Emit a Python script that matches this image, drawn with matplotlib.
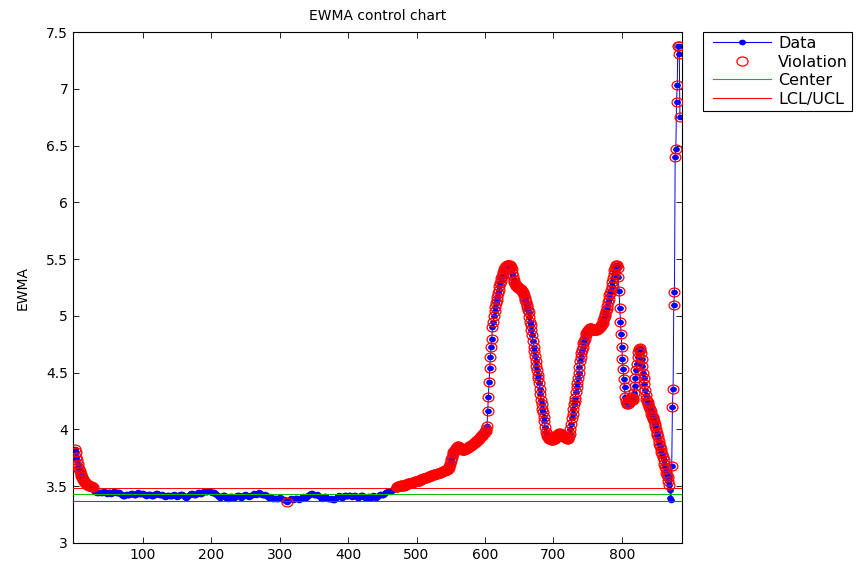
"""EWMA control chart: smoothed process signal with centre line and control limits."""
import numpy as np
import matplotlib
matplotlib.use("Agg")
import matplotlib.pyplot as plt
from matplotlib.lines import Line2D
from matplotlib.path import Path
from matplotlib.transforms import Affine2D
from matplotlib.legend_handler import HandlerLine2D

plt.rcParams["font.family"] = ["DejaVu Sans"]

# ---- data (EWMA value per sample, samples 1..885) ----
ewma_startup = [3.83, 3.80, 3.76, 3.73, 3.70, 3.67, 3.65, 3.63, 3.61, 3.59,
                3.58, 3.565, 3.555, 3.545, 3.535, 3.53, 3.525, 3.52, 3.515, 3.51,
                3.505, 3.50, 3.50, 3.505, 3.50, 3.495, 3.49, 3.48, 3.46, 3.45,
                3.445]

ewma_baseline = [
    # 32-70
    3.445, 3.44, 3.44, 3.445, 3.45, 3.45, 3.445, 3.44, 3.44, 3.445,
    3.45, 3.455, 3.45, 3.445, 3.44, 3.435, 3.44, 3.445, 3.45, 3.45,
    3.445, 3.44, 3.435, 3.44, 3.445, 3.45, 3.455, 3.45, 3.445, 3.44,
    3.44, 3.445, 3.45, 3.445, 3.44, 3.435, 3.43, 3.425, 3.42,
    # 71-100
    3.415, 3.41, 3.415, 3.42, 3.425, 3.43, 3.43, 3.425, 3.42, 3.425,
    3.43, 3.435, 3.44, 3.44, 3.435, 3.43, 3.425, 3.42, 3.425, 3.43,
    3.435, 3.44, 3.445, 3.44, 3.435, 3.43, 3.43, 3.435, 3.44, 3.44,
    # 101-140
    3.435, 3.43, 3.425, 3.42, 3.415, 3.42, 3.425, 3.43, 3.435, 3.43,
    3.425, 3.42, 3.415, 3.41, 3.415, 3.42, 3.425, 3.43, 3.435, 3.44,
    3.44, 3.435, 3.43, 3.425, 3.42, 3.42, 3.425, 3.43, 3.425, 3.42,
    3.415, 3.41, 3.405, 3.41, 3.415, 3.42, 3.425, 3.42, 3.415, 3.41,
    # 141-170
    3.41, 3.415, 3.42, 3.425, 3.43, 3.425, 3.42, 3.415, 3.41, 3.405,
    3.41, 3.415, 3.42, 3.425, 3.43, 3.435, 3.43, 3.425, 3.42, 3.415,
    3.41, 3.405, 3.40, 3.405, 3.41, 3.415, 3.42, 3.425, 3.43, 3.435,
    # 171-210
    3.44, 3.44, 3.435, 3.43, 3.425, 3.42, 3.425, 3.43, 3.435, 3.44,
    3.445, 3.445, 3.44, 3.435, 3.435, 3.44, 3.445, 3.45, 3.45, 3.455,
    3.455, 3.45, 3.445, 3.45, 3.455, 3.46, 3.46, 3.455, 3.45, 3.445,
    3.44, 3.445, 3.45, 3.445, 3.44, 3.435, 3.43, 3.425, 3.42, 3.415,
    # 211-260
    3.41, 3.405, 3.40, 3.405, 3.41, 3.415, 3.42, 3.425, 3.42, 3.415,
    3.41, 3.40, 3.395, 3.39, 3.395, 3.40, 3.405, 3.41, 3.415, 3.41,
    3.405, 3.40, 3.395, 3.40, 3.405, 3.41, 3.415, 3.42, 3.425, 3.42,
    3.415, 3.41, 3.405, 3.40, 3.405, 3.41, 3.415, 3.42, 3.425, 3.43,
    3.425, 3.42, 3.415, 3.41, 3.405, 3.41, 3.415, 3.42, 3.42, 3.425,
    # 261-290
    3.43, 3.435, 3.44, 3.435, 3.43, 3.425, 3.43, 3.435, 3.44, 3.445,
    3.44, 3.435, 3.43, 3.425, 3.42, 3.42, 3.425, 3.43, 3.425, 3.42,
    3.415, 3.41, 3.405, 3.40, 3.405, 3.41, 3.405, 3.40, 3.395, 3.39,
    # 291-340
    3.39, 3.395, 3.40, 3.395, 3.39, 3.385, 3.39, 3.395, 3.40, 3.405,
    3.40, 3.395, 3.39, 3.385, 3.38, 3.38, 3.385, 3.38, 3.375, 3.375,
    3.363, 3.375, 3.375, 3.38, 3.385, 3.39, 3.395, 3.39, 3.385, 3.38,
    3.385, 3.39, 3.395, 3.40, 3.395, 3.39, 3.385, 3.38, 3.385, 3.39,
    3.395, 3.40, 3.405, 3.41, 3.405, 3.40, 3.395, 3.40, 3.405, 3.41,
    # 341-360
    3.415, 3.42, 3.425, 3.43, 3.435, 3.44, 3.44, 3.435, 3.43, 3.425,
    3.42, 3.42, 3.425, 3.43, 3.425, 3.42, 3.415, 3.41, 3.405, 3.40,
    # 361-390
    3.395, 3.39, 3.395, 3.40, 3.405, 3.41, 3.41, 3.405, 3.40, 3.395,
    3.39, 3.385, 3.385, 3.39, 3.395, 3.39, 3.385, 3.38, 3.38, 3.385,
    3.39, 3.395, 3.40, 3.405, 3.41, 3.415, 3.42, 3.415, 3.41, 3.405,
    # 391-450
    3.40, 3.405, 3.41, 3.415, 3.42, 3.42, 3.415, 3.41, 3.41, 3.415,
    3.42, 3.425, 3.42, 3.415, 3.41, 3.405, 3.41, 3.415, 3.42, 3.42,
    3.415, 3.41, 3.405, 3.40, 3.40, 3.405, 3.41, 3.415, 3.42, 3.425,
    3.42, 3.415, 3.41, 3.405, 3.40, 3.395, 3.40, 3.405, 3.41, 3.41,
    3.405, 3.40, 3.40, 3.405, 3.41, 3.415, 3.42, 3.415, 3.41, 3.405,
    3.40, 3.405, 3.41, 3.415, 3.42, 3.425, 3.43, 3.43, 3.425, 3.42,
    # 451-475
    3.425, 3.43, 3.435, 3.44, 3.445, 3.45, 3.45, 3.455, 3.46, 3.455,
    3.45, 3.455, 3.46, 3.465, 3.47, 3.475, 3.475, 3.48, 3.48, 3.485,
    3.49, 3.495, 3.50, 3.50, 3.505,
]

ewma_drift = [
    # 476-548
    3.505, 3.505, 3.51, 3.51, 3.505, 3.505, 3.51, 3.515, 3.515, 3.52,
    3.52, 3.52, 3.525, 3.53, 3.53,
    3.53, 3.525, 3.525, 3.53, 3.535, 3.54, 3.54, 3.545, 3.545, 3.55,
    3.55, 3.545, 3.545, 3.55, 3.555,
    3.56, 3.56, 3.565, 3.565, 3.57, 3.57, 3.575, 3.575, 3.575, 3.58,
    3.58, 3.585, 3.585, 3.59, 3.59,
    3.595, 3.595, 3.60, 3.60, 3.60, 3.605, 3.605, 3.61, 3.61, 3.61,
    3.615, 3.615, 3.62, 3.62, 3.62,
    3.625, 3.625, 3.63, 3.63, 3.635, 3.635, 3.64, 3.64, 3.64, 3.645,
    3.65, 3.66, 3.68,
    # 549-602
    3.70, 3.72, 3.74, 3.76, 3.78, 3.80, 3.81, 3.82, 3.83, 3.84,
    3.845, 3.85,
    3.85, 3.845, 3.84, 3.835, 3.83, 3.825, 3.82, 3.82, 3.82, 3.82,
    3.825, 3.825, 3.83, 3.835, 3.84, 3.845, 3.85, 3.85, 3.855, 3.86,
    3.865, 3.87, 3.875, 3.88, 3.885, 3.89, 3.895, 3.90, 3.905, 3.91,
    3.915, 3.92, 3.93, 3.94, 3.945, 3.95, 3.96, 3.965, 3.97, 3.98,
    3.99, 4.00,
]

ewma_peak1 = [
    # 603-692
    4.03, 4.16, 4.29, 4.42, 4.54, 4.64, 4.73, 4.80, 4.90,
    4.95, 5.00, 5.04, 5.08, 5.11, 5.14, 5.17, 5.20, 5.23, 5.26,
    5.29, 5.31, 5.33, 5.35, 5.37, 5.39, 5.41, 5.42, 5.43, 5.44,
    5.445, 5.45,
    5.45, 5.45, 5.445, 5.44, 5.43, 5.41, 5.38,
    5.35, 5.32, 5.30, 5.28, 5.27, 5.26, 5.26, 5.255, 5.25, 5.245,
    5.24, 5.235, 5.23, 5.22, 5.21,
    5.20, 5.18, 5.16, 5.14, 5.12, 5.10, 5.08, 5.05, 5.03,
    4.99, 4.95, 4.92, 4.88, 4.83, 4.78, 4.73, 4.69, 4.65, 4.60,
    4.56, 4.52, 4.48, 4.45, 4.41, 4.36, 4.31, 4.26, 4.22, 4.18,
    4.15, 4.11, 4.07, 4.02, 3.98, 3.96, 3.94, 3.93,
]

ewma_trough = [
    # 693-724
    3.925, 3.92, 3.915, 3.915, 3.91, 3.91, 3.91, 3.915, 3.915, 3.92,
    3.93, 3.94, 3.95, 3.955, 3.96, 3.965, 3.965, 3.96, 3.955, 3.95,
    3.945, 3.94, 3.935, 3.935, 3.93, 3.925, 3.925, 3.92, 3.92, 3.925,
    3.94, 3.96,
]

ewma_peak2 = [
    # 725-795
    4.00, 4.05, 4.10, 4.14, 4.18, 4.22, 4.25, 4.28, 4.33, 4.37,
    4.41, 4.45, 4.50, 4.55, 4.60, 4.64, 4.67, 4.70, 4.73, 4.76,
    4.78, 4.80, 4.83, 4.85,
    4.86, 4.87, 4.88, 4.885, 4.89, 4.89, 4.89, 4.885, 4.88, 4.88,
    4.875, 4.875, 4.875, 4.88, 4.88, 4.88, 4.885, 4.89, 4.895, 4.90,
    4.91, 4.92,
    4.93, 4.94, 4.96, 4.98, 5.00, 5.02, 5.04, 5.06, 5.09, 5.12,
    5.15, 5.18, 5.20, 5.23, 5.26, 5.30, 5.33, 5.37, 5.40, 5.42,
    5.44, 5.45,
    5.45, 5.42, 5.34,
]

ewma_tail = [
    # 796-872
    5.22, 5.07, 4.95, 4.84, 4.73, 4.62, 4.53, 4.44, 4.37, 4.29, 4.25,
    4.23, 4.22, 4.22, 4.23, 4.25, 4.27, 4.29, 4.28, 4.26, 4.26, 4.28, 4.32,
    4.38, 4.45, 4.52, 4.58, 4.64, 4.68, 4.71, 4.72,
    4.70, 4.67, 4.62, 4.56, 4.50, 4.45, 4.40, 4.35, 4.30,
    4.27, 4.25, 4.24, 4.22, 4.20, 4.18, 4.16, 4.14, 4.12, 4.11,
    4.09, 4.07, 4.05, 4.03, 4.00, 3.97, 3.95, 3.93, 3.90, 3.87,
    3.85, 3.83, 3.80, 3.78, 3.76, 3.73, 3.70, 3.67, 3.65, 3.62,
    3.60, 3.585, 3.55, 3.51, 3.47,
    3.40, 3.375,
]

ewma_spike = [3.68, 4.20, 4.36, 5.10, 5.21, 6.40, 6.47, 6.88, 7.03,
              7.38, 7.38, 7.31, 6.75]

center = 3.428
ucl = 3.487
lcl = 3.369

ewma = np.array(ewma_startup + ewma_baseline + ewma_drift + ewma_peak1
                + ewma_trough + ewma_peak2 + ewma_tail + ewma_spike)
n = len(ewma)
x = np.arange(1, n + 1)
viol = (ewma > ucl) | (ewma < lcl)

# the reference render is slightly stretched sideways: use a wide ellipse
ell = Path.unit_circle().transformed(Affine2D().scale(1.22, 1.0))

fig = plt.figure(figsize=(8.57, 5.64), dpi=100)
ax = fig.add_axes([73 / 857, 21 / 564, 609 / 857, 511 / 564])

ax.plot(x, ewma, "-", color="#0000ff", lw=0.7, marker=ell, ms=4.9, mew=0,
        zorder=2)
ax.plot(x[viol], ewma[viol], ls="none", marker=ell, mfc="none",
        mec="#ff0000", ms=7.8, mew=0.9, zorder=3)
ax.axhline(center, color="#00c000", lw=0.7, zorder=4)
ax.axhline(ucl, color="#ff0000", lw=0.7, zorder=4)
ax.axhline(lcl, color="#ff0000", lw=0.7, zorder=4)

ax.set_xlim(-2, 888)
ax.set_ylim(3, 7.5)
ax.set_xticks(np.arange(100, 801, 100))
ax.set_yticks(np.arange(3, 7.51, 0.5))
ax.set_yticklabels(["3", "3.5", "4", "4.5", "5", "5.5", "6", "6.5", "7", "7.5"])
ax.tick_params(direction="in", top=True, right=True, length=4.5, width=0.6,
               labelsize=10)
for s in ax.spines.values():
    s.set_linewidth(0.8)

ax.set_title("EWMA control chart", fontsize=10, pad=9)
ax.set_ylabel("EWMA", fontsize=10, labelpad=12)

handles = [
    Line2D([], [], color="#0000ff", lw=0.8, marker=ell, ms=5, mew=0),
    Line2D([], [], ls="none", marker=ell, mfc="none", mec="#ff0000", ms=8,
           mew=0.9),
    Line2D([], [], color="#00c000", lw=0.8),
    Line2D([], [], color="#ff0000", lw=0.8),
]
hm = {h: HandlerLine2D(xpad=0.38) for h in handles}
leg = fig.legend(handles, ["Data", "Violation", "Center", "LCL/UCL"],
                 loc="upper left", bbox_to_anchor=(703 / 857, 1 - 32 / 564),
                 fontsize=11.5, numpoints=1, handlelength=4.0, handler_map=hm,
                 handletextpad=0.44, labelspacing=0.22, borderpad=0.25,
                 borderaxespad=0, fancybox=False, framealpha=1,
                 edgecolor="black")
leg.get_frame().set_linewidth(0.8)

fig.savefig("out.png", dpi=100)
